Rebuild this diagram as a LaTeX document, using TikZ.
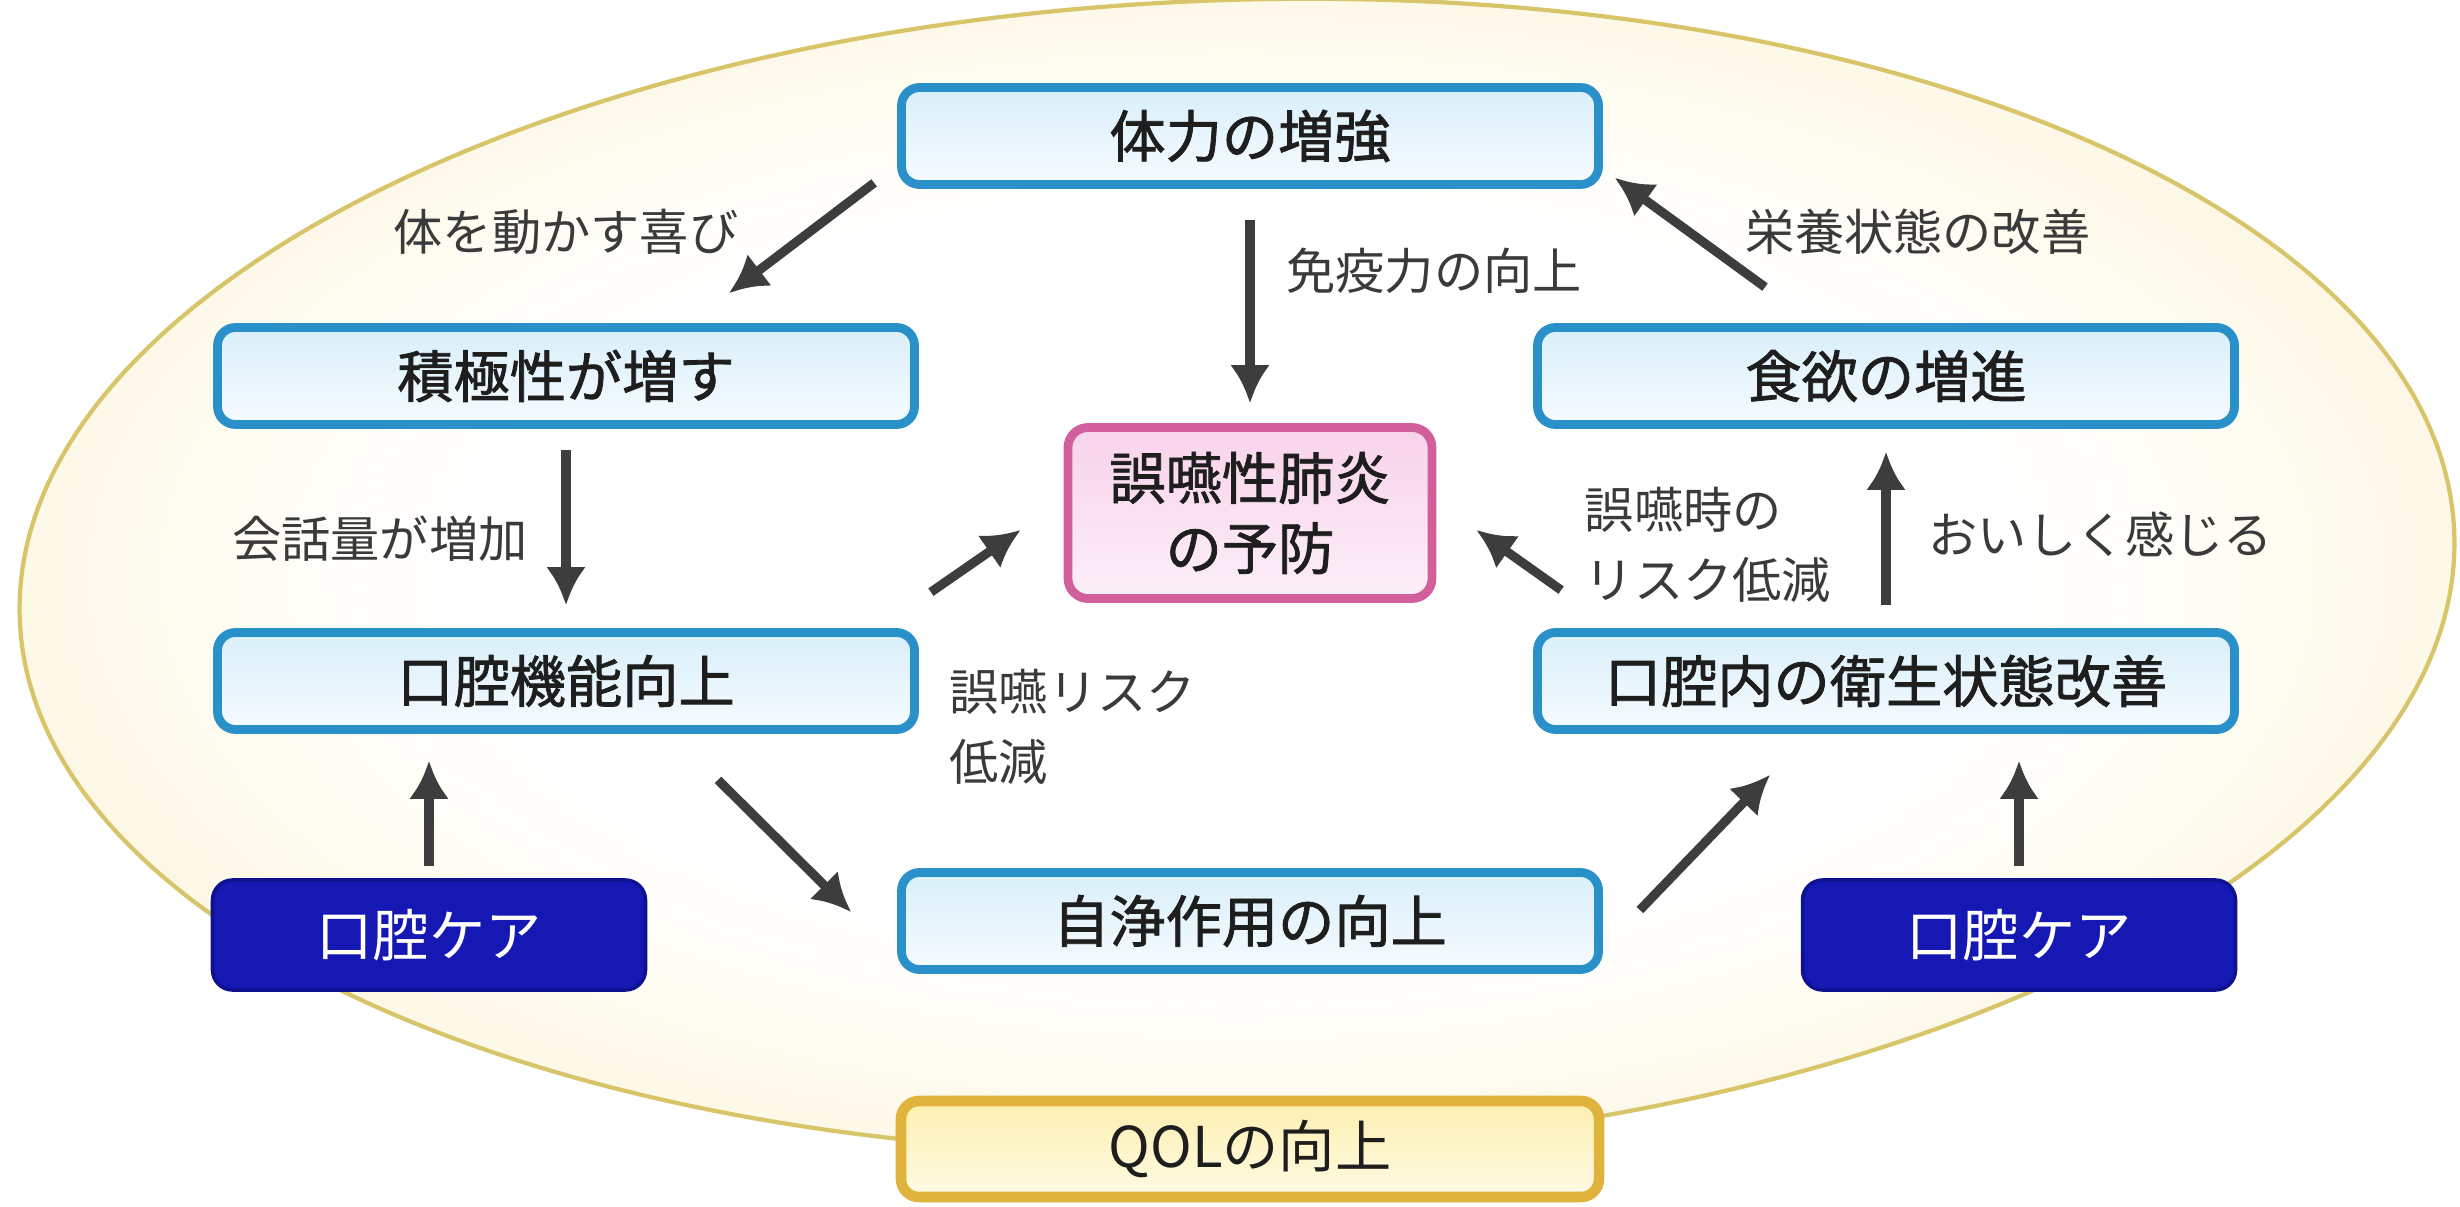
\documentclass[tikz,border=0pt]{standalone}
\usepackage{fontspec}
\setmainfont{Noto Sans CJK JP}
\newfontfamily\jpbold[FakeBold=1.4]{Noto Sans CJK JP}
\usepackage{tikz}
\usetikzlibrary{positioning,arrows.meta}
\definecolor{boxblue}{HTML}{2A90CA}
\definecolor{boxtop}{HTML}{D9EFFA}
\definecolor{boxbot}{HTML}{F6FBFE}
\definecolor{carefill}{HTML}{1518B2}
\definecolor{careline}{HTML}{0E1290}
\definecolor{pinkline}{HTML}{D35E9C}
\definecolor{pinktop}{HTML}{F8D3EA}
\definecolor{pinkbot}{HTML}{FCEFF8}
\definecolor{goldline}{HTML}{E0B43C}
\definecolor{goldtop}{HTML}{FCEFB0}
\definecolor{goldbot}{HTML}{FFFBE4}
\definecolor{cream}{HTML}{FAF0C8}
\definecolor{ellline}{HTML}{D8C56A}
\definecolor{arrgray}{HTML}{3D3D3D}
\definecolor{lblgray}{HTML}{3A3A3A}
\definecolor{txtdark}{HTML}{1E1E1E}
\pgfdeclareradialshading{creamfade}{\pgfpoint{0bp}{0bp}}{color(0bp)=(white); color(16bp)=(white); color(36bp)=(cream); color(50bp)=(cream)}
\tikzstyle{blk}=[draw=boxblue, line width=2.5pt, rounded corners=0.18cm, top color=boxtop, bottom color=boxbot, minimum height=0.97cm, minimum width=6.97cm, text=txtdark, font=\jpbold\fontsize{16}{20}\selectfont]
\tikzstyle{care}=[draw=careline, line width=1pt, fill=carefill, rounded corners=0.2cm, minimum height=1.1cm, minimum width=4.33cm, text=white, font=\fontsize{16}{20}\selectfont]
\tikzstyle{goal}=[draw=pinkline, line width=2.5pt, rounded corners=0.2cm, top color=pinktop, bottom color=pinkbot, minimum height=1.71cm, minimum width=3.64cm, align=center, text=txtdark, font=\jpbold\fontsize{16}{20}\selectfont]
\tikzstyle{qolbox}=[draw=goldline, line width=3pt, rounded corners=0.18cm, top color=goldtop, bottom color=goldbot, minimum height=0.96cm, minimum width=6.98cm, text=txtdark, font=\fontsize{16}{20}\selectfont]
\tikzstyle{lbl}=[text=lblgray, inner sep=0pt, align=left, font=\fontsize{14}{20}\selectfont]
\tikzstyle{arr}=[->, line width=2.6pt, draw=arrgray]
\begin{document}
\begin{tikzpicture}[node distance=2cm, >={Latex[length=0.38cm,width=0.40cm]}]
\useasboundingbox (0,0) rectangle (24.6,12.06);
\fill[white] (0,0) rectangle (24.6,12.06);
% background
\shade[shading=creamfade, draw=ellline, line width=1.2pt, shift={(12.37,6.30)}, rotate=2] (0,0) ellipse (12.18 and 5.76);

\node[blk] at (12.50,10.70) (tairyoku) {体力の増強};
\node[blk] at (5.66,8.30) (sekkyoku) {積極性が増す};
\node[blk, right of = sekkyoku, node distance = 13.2cm] (shokuyoku) {食欲の増進};
\node[blk, below of = sekkyoku, node distance = 3.05cm] (koukuu) {口腔機能向上};
\node[blk, below of = shokuyoku, node distance = 3.05cm] (eisei) {口腔内の衛生状態改善};
\node[goal] at (12.50,6.93) (yobou) {誤嚥性肺炎\\の予防};
\node[blk, below of = tairyoku, node distance = 7.85cm] (jijou) {自浄作用の向上};
\node[care] at (4.29,2.71) (careL) {口腔ケア};
\node[care, right of = careL, node distance = 15.9cm] (careR) {口腔ケア};
\node[qolbox, below of = jijou, node distance = 2.28cm] (qol) {QOLの向上};

\node[lbl, above of = sekkyoku, node distance = 1.44cm] (l1) {体を動かす喜び};
\node[lbl, above of = shokuyoku, node distance = 1.44cm, xshift = 0.32cm] (l3) {栄養状態の改善};
\node[lbl, anchor=west] at ([shift={(0.30,-0.46)}]koukuu.east) (l5) {誤嚥リスク\\低減};
\node[lbl, anchor=west] at ([shift={(0.51,0.83)}]eisei.north west) (l6) {誤嚥時の\\リスク低減};

\draw[arr] ([shift={(-0.23,0.06)}]tairyoku.south west) -- ([shift={(1.63,0.30)}]sekkyoku.north);
\draw[arr, shorten <=0.31cm, shorten >=0.20cm] (tairyoku.south) -- node[lbl, pos=0.35, right=0.32cm] (l2) {免疫力の向上} (yobou.north);
\draw[arr] ([shift={(-1.21,0.36)}]shokuyoku.north) -- ([shift={(0.12,0.11)}]tairyoku.south east);
\draw[arr, shorten <=0.21cm, shorten >=0.23cm] (sekkyoku.south) -- node[lbl, pos=0.55, left=0.34cm] (l4) {会話量が増加} (koukuu.north);
\draw[arr] ([shift={(0.12,0.36)}]koukuu.north east) -- ([shift={(-0.43,-0.17)}]yobou.west);
\draw[arr] ([shift={(1.52,-0.46)}]koukuu.south) -- ([shift={(-0.46,0.09)}]jijou.west);
\draw[arr] ([shift={(0.28,0.38)}]eisei.north west) -- ([shift={(0.40,-0.17)}]yobou.east);
\draw[arr, shorten <=0.23cm, shorten >=0.23cm] (eisei.north) -- node[lbl, pos=0.47, right=0.38cm] (l7) {おいしく感じる} (shokuyoku.south);
\draw[arr] ([shift={(0.37,0.11)}]jijou.east) -- ([shift={(-1.16,-0.41)}]eisei.south);
\draw[arr, shorten <=0.12cm, shorten >=0.27cm] (careL.north) -- (careL.north |- koukuu.south);
\draw[arr, shorten <=0.12cm, shorten >=0.27cm] (careR.north) -- (careR.north |- eisei.south);
\end{tikzpicture}
\end{document}
